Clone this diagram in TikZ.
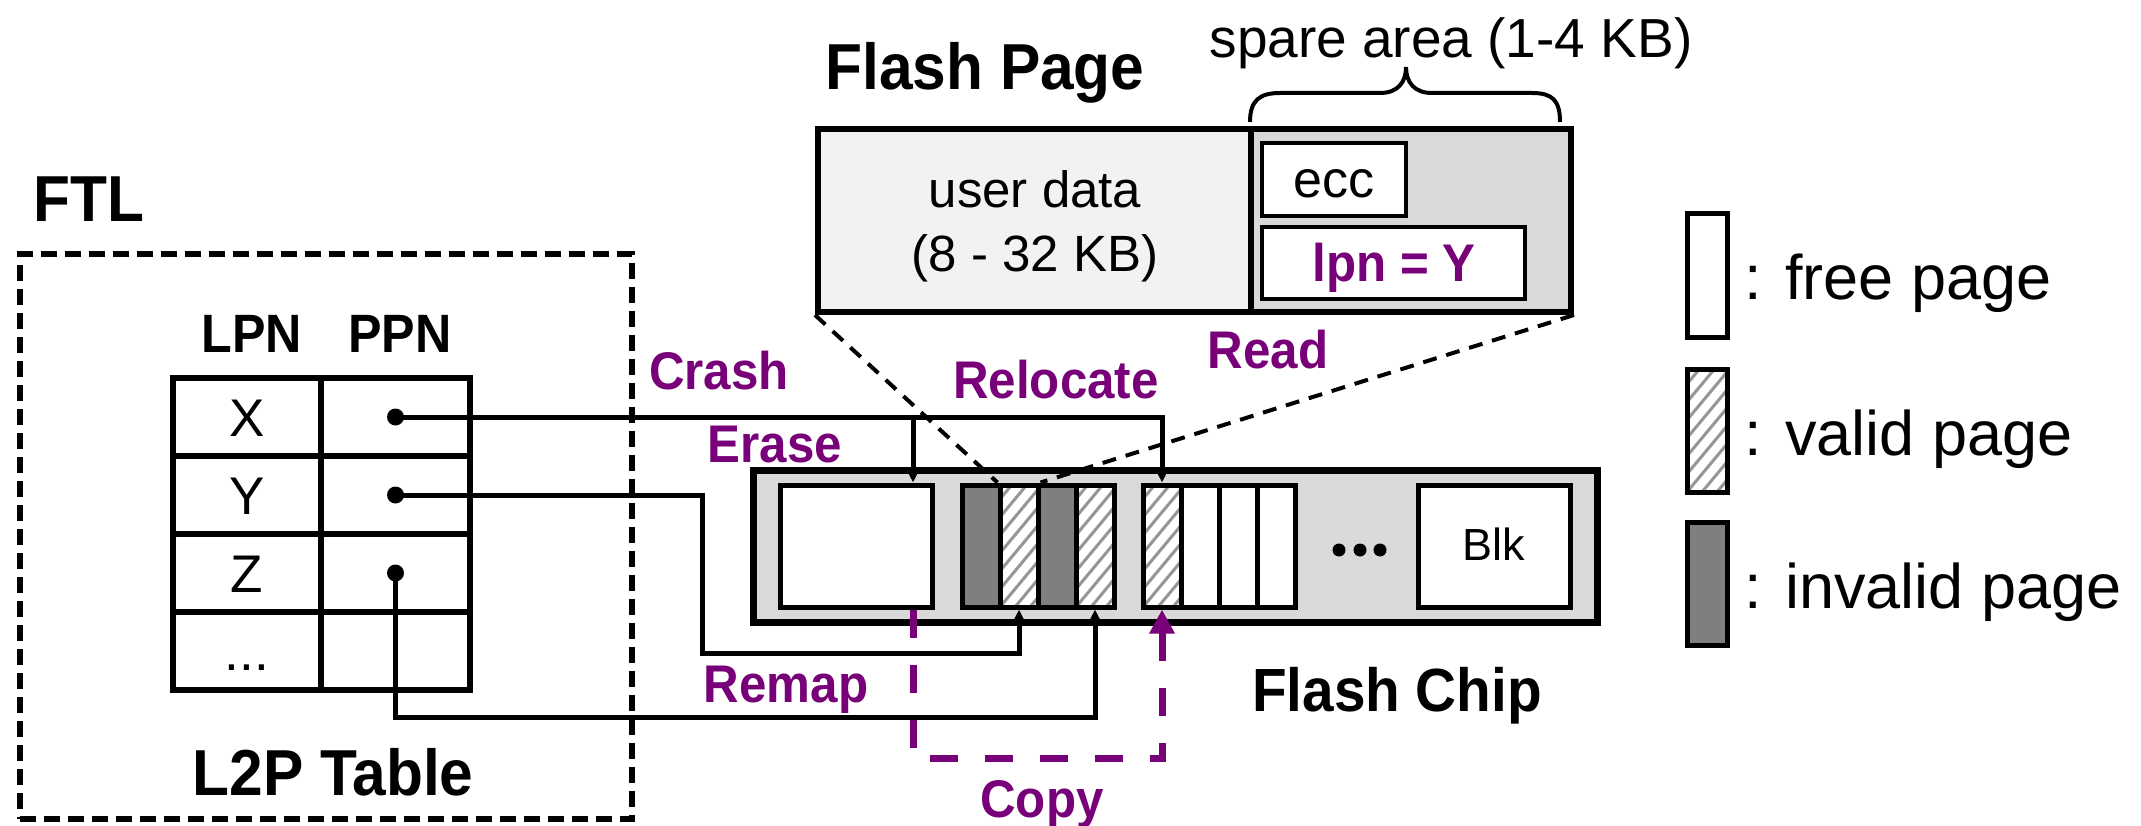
\documentclass[tikz,border=0pt]{standalone}
\usepackage{fontspec}
\setmainfont{Liberation Sans}[BoldFeatures={FakeStretch=0.93}]
\usetikzlibrary{arrows.meta}
\definecolor{actpurple}{RGB}{120,0,120}
\definecolor{chipgray}{RGB}{217,217,217}
\definecolor{datagray}{RGB}{242,242,242}
\definecolor{invgray}{RGB}{127,127,127}
\definecolor{hatchgray}{RGB}{150,150,150}
\newcommand\fsz[1]{\fontsize{#1pt}{#1pt}\selectfont}
\tikzset{
  lbl/.style={anchor=base, inner sep=0pt, font=\fsz{#1}},
  hd/.style={anchor=base, inner sep=0pt, font=\bfseries\fsz{#1}},
  act/.style={anchor=base, inner sep=0pt, text=actpurple, font=\bfseries\fsz{53}},
  cell/.style={draw, line width=6pt, minimum height=78pt, inner sep=0pt},
  pg/.style={draw, line width=5pt, fill=white, minimum width=38pt, minimum height=122pt, inner sep=0pt},
  freepg/.style={pg},
  invpg/.style={pg, fill=invgray},
  validpg/.style={pg, path picture={
      \foreach \k in {-10,...,4}
        \draw[hatchgray, line width=3pt]
          ([xshift=\k*15pt]path picture bounding box.south west) -- ++(130,-156);}},
  pdot/.style={circle, fill=black, inner sep=0pt, minimum size=17pt},
  conn/.style={draw, line width=5pt},
  tipb/.style={-{Triangle[length=13pt,width=12pt]}},
  zoomline/.style={draw, line width=4pt, dash pattern=on 14pt off 10pt},
  copyline/.style={draw=actpurple, line width=7pt, dash pattern=on 28pt off 27pt,
    -{Triangle[length=24pt,width=24pt]}},
}
\begin{document}
\begin{tikzpicture}[x=1pt, y=-1pt, line join=miter]
\useasboundingbox (0,0) rectangle (2141,826);

% ---------- FTL with the L2P table ----------
\node[hd=65, anchor=base west] (ftl) at (33,222) {FTL};
\node[draw, line width=6pt, dash pattern=on 16pt off 8pt, minimum width=612pt,
      minimum height=565pt, inner sep=0pt] (ftlbox) at (326,536.5) {};

\node[hd=54] (hL) at (252,352) {LPN};
\node[hd=54] (hP) at (400,352) {PPN};

\node[cell, minimum width=148pt] (lX) at (247,417) {};
\node[cell, minimum width=149pt] (pX) at (395.5,417) {};
\node[cell, minimum width=148pt] (lY) at (247,495) {};
\node[cell, minimum width=149pt] (pY) at (395.5,495) {};
\node[cell, minimum width=148pt] (lZ) at (247,573) {};
\node[cell, minimum width=149pt] (pZ) at (395.5,573) {};
\node[cell, minimum width=148pt] (lE) at (247,651) {};
\node[cell, minimum width=149pt] (pE) at (395.5,651) {};

\node[lbl=53] (tX) at (247,436) {X};
\node[lbl=53] (tY) at (247,514) {Y};
\node[lbl=53] (tZ) at (247,592) {Z};
\node[lbl=53] (tE) at (247,670) {...};

\node[hd=65] (l2p) at (333,795) {L2P Table};

% ---------- flash page ----------
\node[hd=65] (fpage) at (985,90) {Flash Page};
\node[lbl=55] (sparelbl) at (1451,58) {spare area (1-4 KB)};
\draw[line width=4pt] (1250,122) .. controls (1250,100) and (1260,93) .. (1280,93)
  -- (1380,93) .. controls (1398,93) and (1406,82) .. (1406,67)
  .. controls (1406,82) and (1414,93) .. (1432,93)
  -- (1532,93) .. controls (1552,93) and (1560,100) .. (1560,122);

\node[draw, line width=6pt, fill=datagray, minimum width=433pt, minimum height=183pt,
      inner sep=0pt] (udata) at (1034.5,220.5) {};
\node[draw, line width=6pt, fill=chipgray, minimum width=320pt, minimum height=183pt,
      inner sep=0pt] (spare) at (1411,220.5) {};
\node[lbl=51] (ud1) at (1035,208) {user data};
\node[lbl=51] (ud2) at (1035,272) {(8 - 32 KB)};
\node[draw, line width=4pt, fill=white, minimum width=144pt, minimum height=73pt,
      inner sep=0pt] (eccbox) at (1334,179.5) {};
\node[lbl=52] (ecct) at (1334,198) {ecc};
\node[draw, line width=4pt, fill=white, minimum width=263pt, minimum height=72pt,
      inner sep=0pt] (lpnbox) at (1393.5,263) {};
\node[act] (lpnt) at (1394,282) {lpn = Y};

% ---------- flash chip ----------
\node[draw, line width=7pt, fill=chipgray, minimum width=844pt, minimum height=152pt,
      inner sep=0pt] (chip) at (1175,546) {};
\node[freepg, minimum width=152pt] (erase) at (856,546) {};
\node[invpg]   (p1) at (981,546) {};
\node[validpg] (p2) at (1019,546) {};
\node[invpg]   (p3) at (1057,546) {};
\node[validpg] (p4) at (1095,546) {};
\node[validpg] (q1) at (1162,546) {};
\node[freepg]  (q2) at (1200,546) {};
\node[freepg]  (q3) at (1238,546) {};
\node[freepg]  (q4) at (1276,546) {};
\foreach \x in {1339,1360,1380} \fill (\x,550) circle (6.5);
\node[freepg, minimum width=152pt] (blk) at (1494,546) {};
\node[lbl=45] (blkt) at (1494,560) {Blk};
\node[hd=61] (fchip) at (1397,711) {Flash Chip};

% the page shown enlarged above
\draw[zoomline] (udata.south west) -- (p2.north west);
\draw[zoomline] (spare.south east) -- (p2.north east);

% ---------- mapping connectors ----------
\node[pdot] (dX) at (pX.center) {};
\node[pdot] (dY) at (pY.center) {};
\node[pdot] (dZ) at (pZ.center) {};
\coordinate (ein) at (913,0);
\coordinate (yk) at (702,653);
\coordinate (zbot) at (0,717);
\coordinate (cbot) at (0,758);

\draw[conn, tipb] (dX.center) -| (q1.north);
\draw[conn, tipb] (dX.center -| ein) -- (ein |- erase.north);
\draw[conn, tipb] (dY.center) -| (yk) -| (p2.south);
\draw[conn, tipb] (dZ.center) |- (p4.south |- zbot) -- (p4.south);
\draw[copyline] (ein |- erase.south) -- (ein |- cbot) -| (q1.south);

% ---------- operation labels ----------
\node[act] (crash) at (719,389) {Crash};
\node[act] (erasel) at (775,462) {Erase};
\node[act] (reloc) at (1056,398) {Relocate};
\node[act] (read) at (1268,368) {Read};
\node[act] (remap) at (786,702) {Remap};
\node[act] (copy) at (1042,817) {Copy};

% ---------- legend ----------
\node[freepg, minimum width=40pt, minimum height=123pt] (lgfree) at (1707,275.5) {};
\node[validpg, minimum width=40pt, minimum height=123pt] (lgvalid) at (1707,430.5) {};
\node[invpg, minimum width=40pt, minimum height=123pt] (lginv) at (1707,584) {};
\node[lbl=63, anchor=base west] (lgt1) at (1744,300) {: free page};
\node[lbl=63, anchor=base west] (lgt2) at (1744,455) {: valid page};
\node[lbl=63, anchor=base west] (lgt3) at (1744,608) {: invalid page};
\end{tikzpicture}
\end{document}
